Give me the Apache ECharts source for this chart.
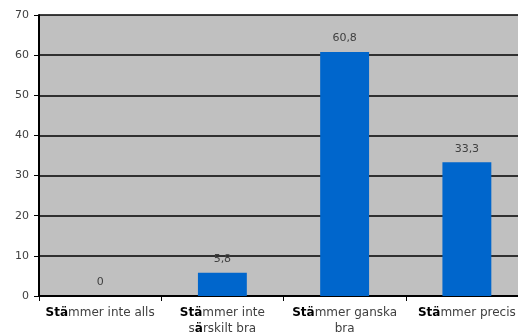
<!DOCTYPE html>
<html>
<head>
<meta charset="utf-8">
<script src="https://cdn.jsdelivr.net/npm/echarts@6/dist/echarts.min.js"></script>
<style>
  html, body { margin: 0; padding: 0; background: #ffffff; overflow: hidden; }
  #chart { width: 528px; height: 336px; }
</style>
</head>
<body>
<div id="chart"></div>
<script>
// kategorier och värden
var categories = ["Stämmer inte alls", "Stämmer inte\nsärskilt bra", "Stämmer ganska\nbra", "Stämmer precis"];
var values = [0, 5.8, 60.8, 33.3];
var yTicks = [0, 10, 20, 30, 40, 50, 60, 70];

// "Stä" och "sä" ritas med fet stil som i originalet
function markup(text) {
  return text.split("\n").map(function (line) {
    var m = line.match(/^(St|s)(ä)(.*)$/);
    if (!m) return "{n|" + line + "}";
    var head = m[1] === "St" ? "{b|Stä}" : "{n|s}{b|ä}";
    return head + "{n|" + m[3] + "}";
  }).join("\n");
}

var chart = echarts.init(document.getElementById("chart"));
var font = "DejaVu Sans, Verdana, sans-serif";

var option = {
  animation: false,
  grid: {
    left: 39,
    right: 0,
    top: 15,
    bottom: 40,
    show: true,
    backgroundColor: "#c0c0c0",
    borderWidth: 0
  },
  xAxis: {
    type: "category",
    data: categories,
    axisLine: { lineStyle: { color: "#000", width: 2 } },
    axisTick: { show: true, length: 5, lineStyle: { color: "#000" } },
    axisLabel: {
      interval: 0,
      margin: 9,
      formatter: function (v) { return markup(v); },
      rich: {
        b: { fontFamily: font, fontSize: 12, fontWeight: "bold", color: "#000", lineHeight: 16 },
        n: { fontFamily: font, fontSize: 12, color: "#404040", lineHeight: 16 }
      }
    }
  },
  yAxis: {
    type: "value",
    min: yTicks[0],
    max: yTicks[yTicks.length - 1],
    interval: 10,
    axisLine: { show: true, lineStyle: { color: "#000", width: 2 } },
    axisTick: { show: true, length: 5, lineStyle: { color: "#000" } },
    axisLabel: { fontFamily: font, fontSize: 11, color: "#404040", margin: 10 },
    splitLine: { lineStyle: { color: "#000", width: 1.5 } }
  },
  series: [
    {
      type: "bar",
      data: values,
      barWidth: "40%",
      itemStyle: { color: "#0066cc" },
      label: {
        show: true,
        position: "top",
        distance: 8,
        fontFamily: font,
        fontSize: 11,
        color: "#404040",
        formatter: function (p) { return String(p.value).replace(".", ","); }
      }
    }
  ]
};
chart.setOption(option);
</script>
</body>
</html>
